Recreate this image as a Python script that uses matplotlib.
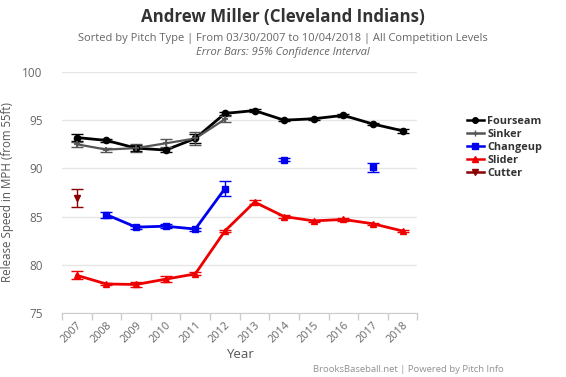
import matplotlib
matplotlib.use("Agg")
import matplotlib.pyplot as plt
import numpy as np

plt.rcParams['font.family'] = ['Open Sans', 'DejaVu Sans']

years = ["2007", "2008", "2009", "2010", "2011", "2012", "2013", "2014", "2015", "2016", "2017", "2018"]

fourseam = [93.2, 92.9, 92.1, 91.9, 93.1, 95.7, 96.0, 95.0, 95.15, 95.5, 94.6, 93.9]
fourseam_err = [0.35, 0.15, 0.3, 0.2, 0.5, 0.2, 0.2, 0.1, 0.12, 0.12, 0.15, 0.2]

sinker = [92.5, 91.95, 92.1, 92.6, 93.1, 95.1, None, None, None, None, None, None]
sinker_err = [0.25, 0.2, 0.4, 0.4, 0.7, 0.3, 0, 0, 0, 0, 0, 0]

changeup = [None, 85.2, 83.9, 84.0, 83.7, 87.9, None, 90.9, None, None, 90.1, None]
changeup_err = [0, 0.3, 0.15, 0.2, 0.15, 0.8, 0, 0.15, 0, 0, 0.5, 0]

slider = [78.9, 78.0, 77.95, 78.5, 79.05, 83.5, 86.5, 85.0, 84.55, 84.7, 84.25, 83.5]
slider_err = [0.4, 0.15, 0.3, 0.3, 0.15, 0.15, 0.2, 0.12, 0.12, 0.12, 0.12, 0.15]

cutter = [86.9, None, None, None, None, None, None, None, None, None, None, None]
cutter_err = [0.95, 0, 0, 0, 0, 0, 0, 0, 0, 0, 0, 0]

series = [
    ("Fourseam", fourseam, fourseam_err, "#000000", "o", 4.5),
    ("Sinker", sinker, sinker_err, "#555555", "+", 5),
    ("Changeup", changeup, changeup_err, "#0000ee", "s", 4.5),
    ("Slider", slider, slider_err, "#ee0000", "^", 4.5),
    ("Cutter", cutter, cutter_err, "#8b0000", "v", 4.5),
]

fig = plt.figure(figsize=(5.66, 3.77), dpi=100)
ax = fig.add_axes([0.1095, 0.170, 0.628, 0.639])

x = np.arange(len(years))
for name, vals, errs, color, marker, ms in series:
    v = np.array([np.nan if a is None else a for a in vals], dtype=float)
    e = np.array(errs, dtype=float)
    ax.plot(x, v, color=color, lw=2 if name != "Sinker" else 1.6, zorder=3)
    ax.errorbar(x, v, yerr=e, fmt='none', ecolor=color, elinewidth=1, capsize=4, capthick=1, zorder=3)
    ax.plot(x, v, linestyle='none', marker=marker, color=color, ms=ms,
            mew=1.3 if marker == "+" else 1, zorder=4)
    ax.plot([], [], color=color, lw=1.8, marker=marker, ms=ms - 0.5, label=name)

ax.set_xlim(-0.5, len(years) - 0.5)
ax.set_ylim(75, 100)
ax.set_yticks([75, 80, 85, 90, 95, 100])
ax.yaxis.grid(True, color="#e6e6e6", lw=1)
ax.set_axisbelow(True)
for s in ["top", "right", "left"]:
    ax.spines[s].set_visible(False)
ax.spines["bottom"].set_color("#cccccc")
ax.tick_params(axis='y', length=0, labelsize=8.5, labelcolor="#666666", pad=14)
ax.set_xticks(x)
ax.set_xticklabels(years, rotation=45, ha='right', rotation_mode='anchor',
                   fontsize=7.8, color="#666666")
ax.tick_params(axis='x', length=0, pad=5)
ax.set_xticks(np.arange(-0.5, len(years)), minor=True)
ax.tick_params(axis='x', which='minor', length=5, color="#cccccc", width=1)

ax.set_xlabel("Year", fontsize=9.5, color="#555555", labelpad=2)
ax.set_ylabel("Release Speed in MPH (from 55ft)", fontsize=8.3, color="#555555", labelpad=6)

fig.text(0.5, 0.955, "Andrew Miller (Cleveland Indians)", ha='center', va='center',
         fontsize=12.2, fontweight='bold', color="#333333")
fig.text(0.5, 0.899, "Sorted by Pitch Type | From 03/30/2007 to 10/04/2018 | All Competition Levels",
         ha='center', va='center', fontsize=8.0, color="#666666")
fig.text(0.5, 0.862, "Error Bars: 95% Confidence Interval", ha='center', va='center',
         fontsize=8.0, color="#666666", style='italic')
fig.text(0.89, 0.021, "BrooksBaseball.net | Powered by Pitch Info", ha='right', va='center',
         fontsize=6.8, color="#909090")

leg = fig.legend(loc='upper left', bbox_to_anchor=(0.818, 0.705), frameon=False,
                 fontsize=7.8, handlelength=1.5, handletextpad=0.35, labelspacing=0.2,
                 borderaxespad=0)
for t in leg.get_texts():
    t.set_fontweight('bold')
    t.set_color("#333333")

fig.savefig("out.png", dpi=100)
